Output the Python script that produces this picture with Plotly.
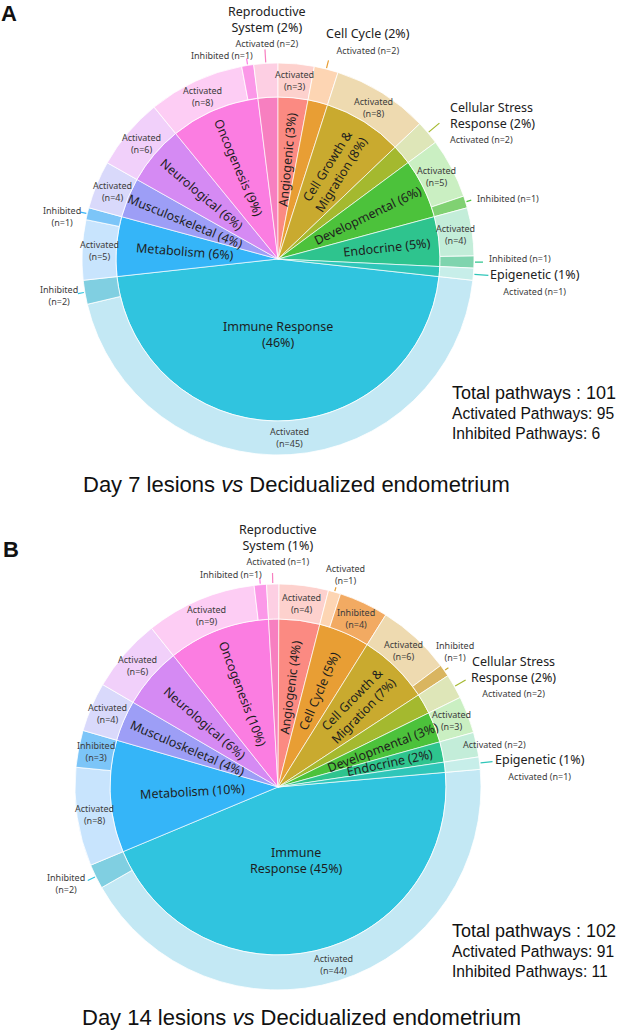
import math
import plotly.graph_objects as go

W, H = 624, 1032

# ---------------- data ----------------
categories = ["Epigenetic", "Endocrine", "Developmental", "Cellular Stress Response",
              "Cell Growth & Migration", "Cell Cycle", "Angiogenic", "Reproductive System",
              "Oncogenesis", "Neurological", "Musculoskeletal", "Metabolism", "Immune Response"]
display_names = ["Epigenetic", "Endocrine", "Developmental", "Cellular Stress<br>Response",
                 "Cell Growth &amp;<br>Migration", "Cell Cycle", "Angiogenic", "Reproductive<br>System",
                 "Oncogenesis", "Neurological", "Musculoskeletal", "Metabolism", "Immune Response"]

day7_activated = [1, 4, 5, 2, 8, 2, 3, 2, 8, 6, 4, 5, 45]
day7_inhibited = [0, 1, 1, 0, 0, 0, 0, 0, 1, 0, 0, 1, 2]
day7_percent = [1, 5, 6, 2, 8, 2, 3, 2, 9, 6, 4, 6, 46]

day14_activated = [1, 2, 3, 2, 6, 1, 4, 1, 9, 6, 4, 8, 44]
day14_inhibited = [0, 0, 0, 0, 1, 4, 0, 0, 1, 0, 0, 3, 2]
day14_percent = [1, 2, 3, 2, 7, 5, 4, 1, 10, 6, 4, 10, 45]

titles = ["Day 7 lesions <i>vs</i> Decidualized endometrium",
          "Day 14 lesions <i>vs</i> Decidualized endometrium"]
panel_letters = ["A", "B"]

# ---------------- styles ----------------
base_colors = ["#2FC6B9", "#2EC48E", "#4CC23B", "#A4B92F", "#C9AA2F", "#E89E34", "#FB8A82",
               "#F77FC0", "#FB7DE1", "#D58AF3", "#9D9EF6", "#35B5F8", "#30C4DF"]
act_colors = ["#C7EEE9", "#C3EDD9", "#CAEFC2", "#DEE6B8", "#EEDAB0", "#FDD5B3", "#FDD1CD",
              "#FDCFE3", "#FDCDF4", "#F1D0FA", "#D9D9FB", "#C8E4FD", "#C3E8F4"]
inh_colors = ["#80DCD3", "#7FD4AE", "#80D172", "#C7CF7E", "#D9B560", "#F2AA62", "#FCA59F",
              "#F9A0CF", "#FB98E8", "#E2A9F6", "#B4B5F8", "#7CC5F8", "#80CFE1"]

LABEL_FONT = "Noto Sans"
HEAD_FONT = "Liberation Sans"
INNER_SIZE = 12.5
SMALL_SIZE = 9

panels = [
    dict(letter=panel_letters[0], act=day7_activated, inh=day7_inhibited, pct=day7_percent,
         title=titles[0], cx=278, cy=259, r_in=162, r_out=196, start=-6.24,
         hidden={0, 3, 5, 7},
         inner_r={1: 110, 11: 93, 4: 105, 12: 76}, inner_r_default=100,
         immune_text="Immune Response<br>(46%)",
         outside={
             (7, "act"): dict(L=13, dx=2, dy=1, xa="center", ya="bottom", align="center", style="cat"),
             (8, "inh"): dict(L=6, dx=6, dy=-3, xa="right", ya="middle", align="center", style="one"),
             (5, "act"): dict(L=8, dx=-2, dy=-3, xa="left", ya="bottom", align="center", style="cat"),
             (3, "act"): dict(L=14, dx=11, dy=-1, xa="left", ya="middle", align="left", style="cat"),
             (2, "inh"): dict(L=5, dx=6, dy=-1.5, xa="left", ya="middle", align="left", style="one"),
             (1, "inh"): dict(L=8, dx=6, dy=-4, xa="left", ya="middle", align="left", style="one"),
             (0, "act"): dict(L=14, dx=2, dy=-9, xa="left", ya="top", align="center", style="cat"),
             (11, "inh"): dict(L=6, dx=0.5, dy=4, xa="right", ya="middle", align="center", style="two"),
             (12, "inh"): dict(L=6, dx=0, dy=2, xa="right", ya="middle", align="center", style="two"),
         },
         title_xy=(296, 485), letter_xy=(1, 13), totals_xy=(452, 393)),
    dict(letter=panel_letters[1], act=day14_activated, inh=day14_inhibited, pct=day14_percent,
         title=titles[1], cx=278, cy=787, r_in=168, r_out=203, start=5.0,
         hidden={0, 3, 7},
         inner_r={2: 112, 1: 115, 4: 115, 5: 105, 11: 86, 12: 76, 9: 97, 10: 98}, inner_r_default=100,
         immune_text="Immune<br>Response (45%)",
         outside={
             (7, "act"): dict(L=10, dx=5.6, dy=-5, xa="center", ya="bottom", align="center", style="cat"),
             (8, "inh"): dict(L=6, dx=2, dy=-3, xa="right", ya="middle", align="center", style="one"),
             (5, "act"): dict(L=4, dx=10, dy=0, xa="center", ya="bottom", align="center", style="two"),
             (4, "inh"): dict(L=4, dx=7, dy=-4, xa="center", ya="bottom", align="center", style="two"),
             (3, "act"): dict(L=12, dx=5.5, dy=-3, xa="left", ya="middle", align="center", style="cat"),
             (1, "act"): dict(L=0, base="mid", dx=3.6, dy=-4, xa="left", ya="middle", align="left", style="one"),
             (0, "act"): dict(L=12, dx=2.5, dy=-10.7, xa="left", ya="top", align="center", style="cat"),
             (12, "inh"): dict(L=8, dx=-2.7, dy=3, xa="right", ya="middle", align="center", style="two"),
         },
         title_xy=(301, 1017), letter_xy=(3, 549), totals_xy=(452, 931)),
]


def pt(cx, cy, r, deg):
    a = math.radians(deg)
    return cx + r * math.cos(a), cy - r * math.sin(a)


def paper(x, y):
    return x / W, 1 - y / H


fig = go.Figure()
annotations = []
shapes = []


def add_text(x, y, text, size, color="#222222", angle=0, xa="center", ya="middle",
             align="center", family=LABEL_FONT):
    px, py = paper(x, y)
    annotations.append(dict(x=px, y=py, xref="paper", yref="paper", text=text, showarrow=False,
                            textangle=angle, xanchor=xa, yanchor=ya, align=align,
                            borderpad=0, borderwidth=0,
                            font=dict(family=family, size=size, color=color)))


for p in panels:
    act, inh, pct = p["act"], p["inh"], p["pct"]
    cx, cy, r_in, r_out, start = p["cx"], p["cy"], p["r_in"], p["r_out"], p["start"]
    tot = [a + b for a, b in zip(act, inh)]
    T = sum(tot)
    n = len(categories)
    order = list(range(n))[::-1]

    # inner pie
    fig.add_trace(go.Pie(
        values=[tot[i] for i in order], labels=[categories[i] for i in order],
        marker=dict(colors=[base_colors[i] for i in order], line=dict(color="rgba(255,255,255,0.85)", width=0.8)),
        sort=False, direction="clockwise", rotation=90 - start, textinfo="none",
        hoverinfo="label+value", showlegend=False,
        domain=dict(x=[(cx - r_in) / W, (cx + r_in) / W], y=[1 - (cy + r_in) / H, 1 - (cy - r_in) / H])))

    # outer ring segments in counterclockwise order
    segs = []
    for i in range(n):
        if inh[i]:
            segs.append((i, "inh", inh[i]))
        if act[i]:
            segs.append((i, "act", act[i]))
    rev = segs[::-1]
    fig.add_trace(go.Pie(
        values=[s[2] for s in rev],
        labels=[f"{categories[s[0]]} - {'Activated' if s[1] == 'act' else 'Inhibited'}" for s in rev],
        marker=dict(colors=[act_colors[s[0]] if s[1] == "act" else inh_colors[s[0]] for s in rev],
                    line=dict(color="white", width=0.8)),
        hole=r_in / r_out, sort=False, direction="clockwise", rotation=90 - start, textinfo="none",
        hoverinfo="label+value", showlegend=False,
        domain=dict(x=[(cx - r_out) / W, (cx + r_out) / W], y=[1 - (cy + r_out) / H, 1 - (cy - r_out) / H])))

    # inner labels
    cum = 0
    for i in range(n):
        mid = start + (cum + tot[i] / 2) / T * 360
        cum += tot[i]
        if i in p["hidden"]:
            continue
        r = p["inner_r"].get(i, p["inner_r_default"])
        if i == n - 1:
            text, angle = p["immune_text"], 0
        else:
            text = f"{display_names[i]} ({pct[i]}%)"
            angle = -mid if math.cos(math.radians(mid)) >= 0 else 180 - mid
            angle = (angle + 180) % 360 - 180
        x, y = pt(cx, cy, r, mid)
        add_text(x, y, text, INNER_SIZE, color="#1E1E1E", angle=angle)

    # outer labels
    cum = 0
    for (i, kind, cnt) in segs:
        mid = start + (cum + cnt / 2) / T * 360
        cum += cnt
        word = "Activated" if kind == "act" else "Inhibited"
        spec = p["outside"].get((i, kind))
        if spec is None:
            x, y = pt(cx, cy, (r_in + r_out) / 2, mid)
            add_text(x, y, f"{word}<br>(n={cnt})", SMALL_SIZE, color="#3C3C3C")
            continue
        base_r = (r_in + r_out) / 2 if spec.get("base") == "mid" else r_out + 1
        x0, y0 = pt(cx, cy, base_r, mid)
        x1, y1 = pt(cx, cy, base_r + spec["L"], mid)
        if spec["L"] > 0:
            a0, b0 = paper(x0, y0)
            a1, b1 = paper(x1, y1)
            shapes.append(dict(type="line", xref="paper", yref="paper", x0=a0, y0=b0, x1=a1, y1=b1,
                               line=dict(color=base_colors[i], width=1.2)))
        if spec["style"] == "cat":
            name_lines = f"{display_names[i]} ({pct[i]}%)".split("<br>")
            text = "<br>".join(f'<span style="font-size:12.5px;fill:#222222">{ln}</span>' for ln in name_lines)
            text += f'<br><span style="font-size:{SMALL_SIZE}px">{word} (n={cnt})</span>'
            size = spec.get("size", 12)
        elif spec["style"] == "one":
            text, size = f"{word} (n={cnt})", SMALL_SIZE
        else:
            text, size = f"{word}<br>(n={cnt})", SMALL_SIZE
        add_text(x1 + spec["dx"], y1 + spec["dy"], text, size, color="#3C3C3C",
                 xa=spec["xa"], ya=spec["ya"], align=spec["align"])

    # totals
    tx, ty = p["totals_xy"]
    add_text(tx, ty, f"Total pathways : {T}", 18, color="#111111", xa="left", family=HEAD_FONT)
    add_text(tx, ty + 20.5, f"Activated Pathways: {sum(act)}", 15.6, color="#111111", xa="left", family=HEAD_FONT)
    add_text(tx, ty + 40, f"Inhibited Pathways: {sum(inh)}", 15.6, color="#111111", xa="left", family=HEAD_FONT)

    # title & panel letter
    add_text(p["title_xy"][0], p["title_xy"][1], p["title"], 22, color="#111111", family=HEAD_FONT)
    lx, ly = p["letter_xy"]
    add_text(lx, ly, f"<b>{p['letter']}</b>", 22, color="#111111", xa="left", family=HEAD_FONT)

fig.update_layout(
    width=W, height=H, autosize=False,
    margin=dict(l=0, r=0, t=0, b=0),
    paper_bgcolor="white", plot_bgcolor="white",
    annotations=annotations, shapes=shapes,
)

fig.write_html("out.html", config={"displayModeBar": False},
               post_script="document.body.style.margin='0px';document.body.style.overflow='hidden';")
